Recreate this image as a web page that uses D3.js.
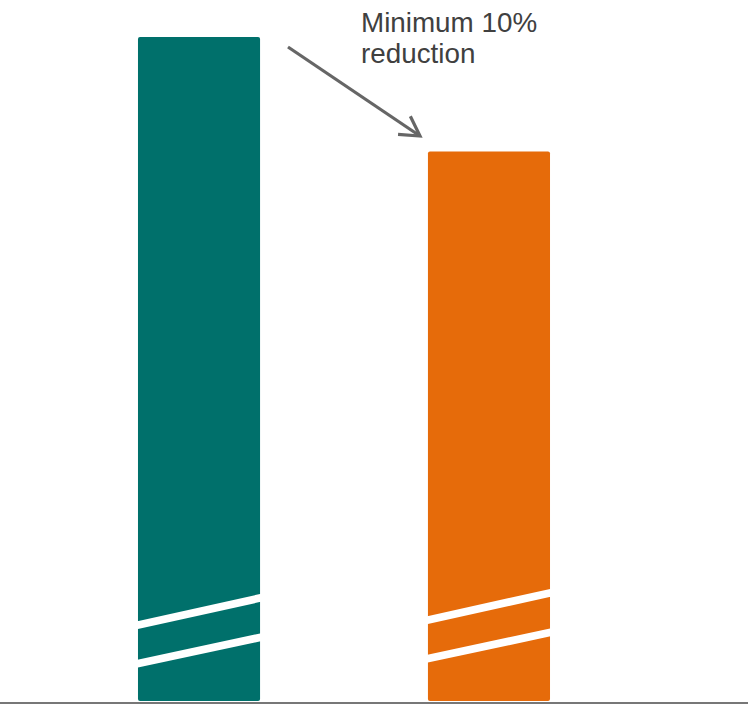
<!DOCTYPE html>
<html>
<head>
<meta charset="utf-8">
<script src="https://cdn.jsdelivr.net/npm/d3@7"></script>
<style>
  html, body { margin: 0; padding: 0; background: #fff; }
  svg { display: block; }
</style>
</head>
<body>
<svg id="chart"></svg>
<script>
// Data
const categories = ["Current", "Target"];
const values = [100, 82.8];
const barColors = ["#00706b", "#e66b0a"];
const annotationLines = ["Minimum 10%", "reduction"];

const width = 748;
const height = 704;
const baseY = 702;

const svg = d3.select("#chart").attr("width", width).attr("height", height);

const x = d3.scaleBand()
  .domain(categories)
  .range([-7, 695])
  .paddingInner(0.579)
  .paddingOuter(0.5);

const y = d3.scaleLinear()
  .domain([0, 100])
  .range([baseY, 37]);

// Bars
const bars = svg.append("g")
  .selectAll("g")
  .data(categories)
  .enter().append("g");

bars.append("rect")
  .attr("x", d => x(d))
  .attr("y", (d, i) => y(values[i]))
  .attr("width", x.bandwidth())
  .attr("height", (d, i) => baseY - 1 - y(values[i]))
  .attr("rx", 2)
  .attr("fill", (d, i) => barColors[i]);

// Axis-break marks (white diagonal slashes near the bottom of each bar)
const breakLift = [0, 5];
bars.each(function(d, i) {
  const g = d3.select(this);
  const x0 = x(d) - 2, x1 = x(d) + x.bandwidth() + 2;
  [[77, 104], [38.5, 64.5]].forEach(([l, r]) => {
    g.append("line")
      .attr("x1", x0).attr("y1", baseY - l - breakLift[i] + 0.44)
      .attr("x2", x1).attr("y2", baseY - r - breakLift[i] - 0.44)
      .attr("stroke", "#fff")
      .attr("stroke-width", 7.8);
  });
});

// Baseline
svg.append("line")
  .attr("x1", 0).attr("x2", width)
  .attr("y1", baseY + 1).attr("y2", baseY + 1)
  .attr("stroke", "#777")
  .attr("stroke-width", 2);

// Arrow annotation
const tip = [420, 136];
const tail = [288, 47];
const ang = Math.atan2(tip[1] - tail[1], tip[0] - tail[0]);
const headLen = 22;
const arrow = svg.append("g")
  .attr("stroke", "#666")
  .attr("stroke-width", 3.2)
  .attr("fill", "none")
  .attr("stroke-linecap", "butt");
arrow.append("line")
  .attr("x1", tail[0]).attr("y1", tail[1])
  .attr("x2", tip[0]).attr("y2", tip[1]);
arrow.append("path")
  .attr("d", d3.line()([
    [tip[0] + headLen * Math.cos(ang + Math.PI - Math.PI / 6), tip[1] + headLen * Math.sin(ang + Math.PI - Math.PI / 6)],
    tip,
    [tip[0] + headLen * Math.cos(ang + Math.PI + Math.PI / 6), tip[1] + headLen * Math.sin(ang + Math.PI + Math.PI / 6)]
  ]));

svg.append("text")
  .attr("x", 361)
  .attr("font-family", "Liberation Sans, Arial, sans-serif")
  .attr("font-size", 27.8)
  .attr("fill", "#404040")
  .selectAll("tspan")
  .data(annotationLines)
  .enter().append("tspan")
  .attr("x", 361)
  .attr("y", (d, i) => 32 + i * 31)
  .text(d => d);
</script>
</body>
</html>
